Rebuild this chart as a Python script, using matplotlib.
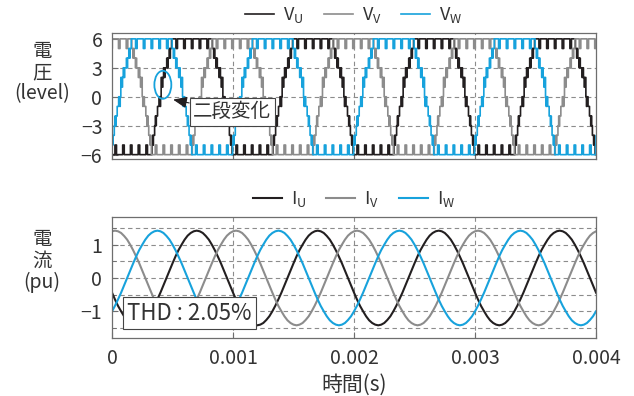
"""Multilevel inverter phase voltages and load currents (two stacked panels)."""

import numpy as np
import matplotlib
matplotlib.use("Agg")
import matplotlib.pyplot as plt
from matplotlib.patches import Ellipse

plt.rcParams["font.family"] = ["Noto Sans CJK JP", "DejaVu Sans"]
plt.rcParams["mathtext.fontset"] = "custom"
plt.rcParams["mathtext.rm"] = "Noto Sans CJK JP"

# ---- data ----
# one period of V_U as steps: start time (us, from the start of the rising edge) and level
v_rise_t = [0, 5, 8, 12, 22, 28, 32, 36, 46, 58, 68, 71, 76, 84, 90, 96, 102,
            108, 122, 128, 132, 142, 148, 152, 162]
v_rise_lv = [-5, -4, -5, -4, -3, -2, -3, -2, -1, 0, -1, 0, 2, 1, 2, 3, 2,
             3, 4, 3, 4, 5, 4, 5, 6]
v_top_t = [198, 211, 262, 275, 326, 339, 390, 403, 454, 467]
v_top_lv = [5, 6, 5, 6, 5, 6, 5, 6, 5, 6]
v_fall_t = [500, 510, 514, 520, 530, 534, 540, 554, 560, 566, 572, 578, 586,
            591, 594, 604, 616, 626, 630, 634, 640, 650, 654, 657, 662]
v_fall_lv = [5, 4, 5, 4, 3, 4, 3, 2, 3, 2, 1, 2, 0,
             -1, 0, -1, -2, -3, -2, -3, -4, -5, -4, -5, -6]
v_bot_t = [694, 707, 758, 771, 822, 835, 886, 899, 950, 963]
v_bot_lv = [-5, -6, -5, -6, -5, -6, -5, -6, -5, -6]
v_rise_start_us = 330       # where V_U leaves the bottom level
phase_shift_us = 333.3      # 120 deg at 1 kHz
period_us = 1000

# I_U sampled every 25 us over one period, starting at t = 0
i_step_us = 25
i_u_samples = [-0.44, -0.65, -0.84, -1.00, -1.15, -1.27, -1.35, -1.40, -1.42, -1.40,
               -1.35, -1.26, -1.15, -1.00, -0.83, -0.64, -0.44, -0.22, 0.00, 0.22,
               0.44, 0.65, 0.84, 1.00, 1.15, 1.27, 1.35, 1.40, 1.42, 1.40,
               1.35, 1.26, 1.15, 1.00, 0.83, 0.64, 0.44, 0.22, 0.00, -0.22]
i_roll = 13                 # samples per 1/3 period

x_ticks = [0, 0.001, 0.002, 0.003, 0.004]
x_labels = ["0", "0.001", "0.002", "0.003", "0.004"]
v_ticks = [-6, -3, 0, 3, 6]
v_labels = ["−6", "−3", "0", "3", "6"]
v_grid = [-3, 0, 3]
i_ticks = [-1, 0, 1]
i_labels = ["−1", "0", "1"]
i_grid = [-1.5, -1, -0.5, 0, 0.5, 1, 1.5]
thd_text = "THD : 2.05%"

BLACK = "#231f20"
GRAY = "#8c8c8c"
BLUE = "#17a2dc"
FRAME = "#6e6e6e"
TXT = "#333333"

# ---- build the waveforms ----
per_t = np.array(v_rise_t + v_top_t + v_fall_t + v_bot_t, dtype=float)
per_lv = np.array(v_rise_lv + v_top_lv + v_fall_lv + v_bot_lv, dtype=float)


def voltage(offset_us):
    t = np.concatenate([per_t + k * period_us + offset_us for k in range(-2, 6)])
    lv = np.tile(per_lv, 8)
    return t * 1e-6, lv


i_u = np.array(i_u_samples)
n_per = 4
t_i = np.arange(len(i_u) * n_per + 1) * i_step_us * 1e-6


def tiled(a):
    return np.append(np.tile(a, n_per), a[0])


currents = {"U": tiled(i_u), "V": tiled(np.roll(i_u, i_roll)), "W": tiled(np.roll(i_u, -i_roll))}

fig = plt.figure(figsize=(6.34, 3.96), dpi=100)
ax1 = fig.add_axes([0.1767, 0.5985, 0.7634, 0.318])
ax2 = fig.add_axes([0.1767, 0.1465, 0.7634, 0.3056])

for ax in (ax1, ax2):
    for s in ax.spines.values():
        s.set_color(FRAME)
        s.set_linewidth(0.9)
    ax.tick_params(direction="in", length=4, width=0.8, color=FRAME,
                   labelsize=14, pad=7, labelcolor=TXT)
    ax.set_xlim(0, 0.004)
    ax.set_xticks(x_ticks)
    for x in x_ticks[1:-1]:
        ax.axvline(x, color="#8c8c8c", lw=0.8, ls=(0, (4, 3)), zorder=0)

leg_kw = dict(loc="lower center", bbox_to_anchor=(0.5, 1.0), ncol=3, frameon=False,
              fontsize=13, handlelength=1.6, columnspacing=1.1, handletextpad=0.5,
              borderaxespad=0.35, borderpad=0.1, labelcolor=TXT)

# top panel: phase voltages
for ph, col, off in [("U", BLACK, 0.0), ("V", GRAY, phase_shift_us), ("W", BLUE, -phase_shift_us)]:
    t, lv = voltage(v_rise_start_us + off)
    ax1.step(t, lv, where="post", color=col, lw=1.2, label="V$_\\mathrm{" + ph + "}$")
for y in v_grid:
    ax1.axhline(y, color="#8c8c8c", lw=0.8, ls=(0, (4, 3)), zorder=0)
ax1.set_ylim(-6.45, 6.6)
ax1.set_yticks(v_ticks)
ax1.set_yticklabels(v_labels)
ax1.set_xticklabels([])
ax1.legend(**leg_kw)

ax1.add_patch(Ellipse((0.00042, 1.24), 0.00014, 2.9, fill=False, ec=BLUE, lw=1.3, zorder=5))
ax1.annotate("二段変化", xy=(0.000505, -0.3), xytext=(0.000992, -1.55),
             ha="center", va="center", fontsize=14, color=TXT,
             bbox=dict(boxstyle="square,pad=0.18", fc="white", ec="#444444", lw=0.8),
             arrowprops=dict(arrowstyle="-|>,head_length=0.6,head_width=0.25",
                             color=BLACK, lw=0.8, shrinkA=0, shrinkB=0), zorder=6)

# bottom panel: currents
for ph, col in [("U", BLACK), ("V", GRAY), ("W", BLUE)]:
    ax2.plot(t_i, currents[ph], color=col, lw=1.5, label="I$_\\mathrm{" + ph + "}$")
for y in i_grid:
    ax2.axhline(y, color="#8c8c8c", lw=0.8, ls=(0, (4, 3)), zorder=0)
ax2.set_ylim(-1.8, 1.83)
ax2.set_yticks(i_ticks)
ax2.set_yticklabels(i_labels)
ax2.set_yticks([-1.5, -0.5, 0.5, 1.5], minor=True)
ax2.tick_params(which="minor", direction="in", length=3, color=FRAME)
ax2.set_xticklabels(x_labels)
ax2.legend(**leg_kw)
ax2.text(0.000124, -1.06, thd_text, ha="left", va="center", fontsize=16, color=TXT,
         bbox=dict(boxstyle="square,pad=0.2", fc="white", ec="#444444", lw=0.8), zorder=6)

fig.text(42 / 634, 1 - 73 / 396, "電\n圧\n(level)", ha="center", va="center",
         fontsize=14, color=TXT, linespacing=1.0)
fig.text(42 / 634, 1 - 261 / 396, "電\n流\n(pu)", ha="center", va="center",
         fontsize=14, color=TXT, linespacing=1.0)
fig.text(354 / 634, 1 - 385 / 396, "時間(s)", ha="center", va="center",
         fontsize=15, color=TXT)

fig.savefig("out.png", dpi=100)
